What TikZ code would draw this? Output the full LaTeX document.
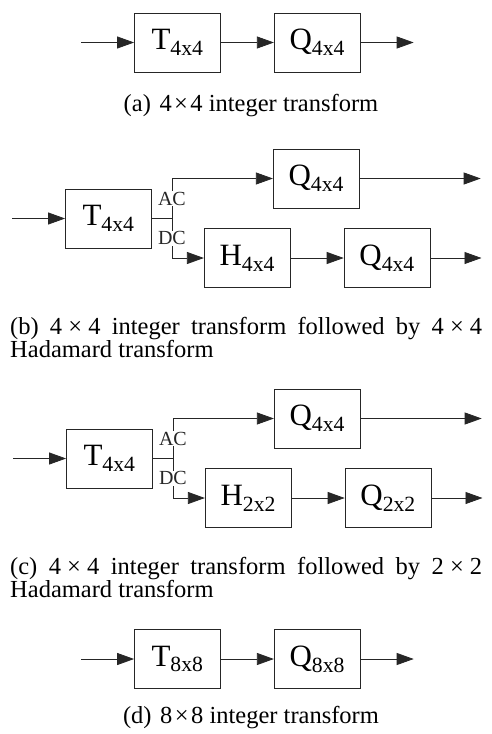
\documentclass[tikz,border=0pt]{standalone}
\usepackage{fontspec}
\setmainfont{Liberation Serif}
\usetikzlibrary{arrows.meta, positioning}
\tikzset{
  % transform / quantiser block
  block/.style={
    rectangle, draw=black!85, line width=0.8pt, minimum width=86pt, minimum height=59pt,
    inner sep=0pt, font=\fontsize{31}{33}\selectfont
  },
  flow/.style={-{Triangle[length=17pt, width=12pt]}, line width=0.8pt, color=black!85},
  wire/.style={line width=0.8pt, color=black!85},
  tap/.style={fill=white, inner sep=1pt, font=\fontsize{20}{20}\selectfont},
  subcap/.style={font=\fontsize{24.5}{23.5}\selectfont, inner sep=0pt},
  longcap/.style={subcap, text width=472pt, align=justify, anchor=north west}
}

\begin{document}
\begin{tikzpicture}[x=1pt, y=1pt]
  \useasboundingbox (0,0) rectangle (492,-734);

  % (a) 4x4 integer transform
  \node[block] (Ta) at (177.5,-42.5) {T\textsubscript{4x4}};
  \node[block, right=53pt of Ta] (Qa) {Q\textsubscript{4x4}};
  \coordinate[left=53pt of Ta] (ina);
  \coordinate[right=53pt of Qa] (outa);
  \draw[flow] (ina) -- (Ta);
  \draw[flow] (Ta) -- (Qa);
  \draw[flow] (Qa) -- (outa);
  \node[subcap, anchor=base] (capa) at (251,-111) {(a)\hspace{0.35em}4\kern.1em×\kern.1em4 integer transform};

  % (b) 4x4 integer transform + 4x4 Hadamard
  \node[block] (Tb) at (108.5,-218.5) {T\textsubscript{4x4}};
  \coordinate[left=53pt of Tb] (inb);
  \coordinate[right=20pt of Tb] (jb);
  \node[block, right=101pt of jb, yshift=40pt] (QACb) {Q\textsubscript{4x4}};
  \node[block, right=32pt of jb, yshift=-39.5pt] (Hb) {H\textsubscript{4x4}};
  \node[block, right=53pt of Hb] (QDCb) {Q\textsubscript{4x4}};
  \coordinate[right=121pt of QACb] (outACb);
  \coordinate[right=51pt of QDCb] (outDCb);
  \draw[flow] (inb) -- (Tb);
  \draw[wire] (Tb) -- (jb);
  \draw[flow] (jb) |- (QACb) node[tap, pos=0.25] {AC};
  \draw[flow] (jb) |- (Hb) node[tap, pos=0.25] {DC};
  \draw[flow] (QACb) -- (outACb);
  \draw[flow] (Hb) -- (QDCb);
  \draw[flow] (QDCb) -- (outDCb);
  \node[longcap] (capb) at (10,-317) {(b) 4\kern.25em×\kern.25em4 integer transform followed by 4\kern.25em×\kern.25em4 Hadamard transform};

  % (c) 4x4 integer transform + 2x2 Hadamard
  \node[block] (Tc) at (109.5,-458.5) {T\textsubscript{4x4}};
  \coordinate[left=53pt of Tc] (inc);
  \coordinate[right=20pt of Tc] (jc);
  \node[block, right=101pt of jc, yshift=40pt] (QACc) {Q\textsubscript{4x4}};
  \node[block, right=32pt of jc, yshift=-39.5pt] (Hc) {H\textsubscript{2x2}};
  \node[block, right=53pt of Hc] (QDCc) {Q\textsubscript{2x2}};
  \coordinate[right=121pt of QACc] (outACc);
  \coordinate[right=51pt of QDCc] (outDCc);
  \draw[flow] (inc) -- (Tc);
  \draw[wire] (Tc) -- (jc);
  \draw[flow] (jc) |- (QACc) node[tap, pos=0.25] {AC};
  \draw[flow] (jc) |- (Hc) node[tap, pos=0.25] {DC};
  \draw[flow] (QACc) -- (outACc);
  \draw[flow] (Hc) -- (QDCc);
  \draw[flow] (QDCc) -- (outDCc);
  \node[longcap] (capc) at (10,-557) {(c) 4\kern.25em×\kern.25em4 integer transform followed by 2\kern.25em×\kern.25em2 Hadamard transform};

  % (d) 8x8 integer transform
  \node[block] (Td) at (177.5,-659) {T\textsubscript{8x8}};
  \node[block, right=53pt of Td] (Qd) {Q\textsubscript{8x8}};
  \coordinate[left=53pt of Td] (ind);
  \coordinate[right=53pt of Qd] (outd);
  \draw[flow] (ind) -- (Td);
  \draw[flow] (Td) -- (Qd);
  \draw[flow] (Qd) -- (outd);
  \node[subcap, anchor=base] (capd) at (251,-723) {(d)\hspace{0.35em}8\kern.1em×\kern.1em8 integer transform};
\end{tikzpicture}
\end{document}
